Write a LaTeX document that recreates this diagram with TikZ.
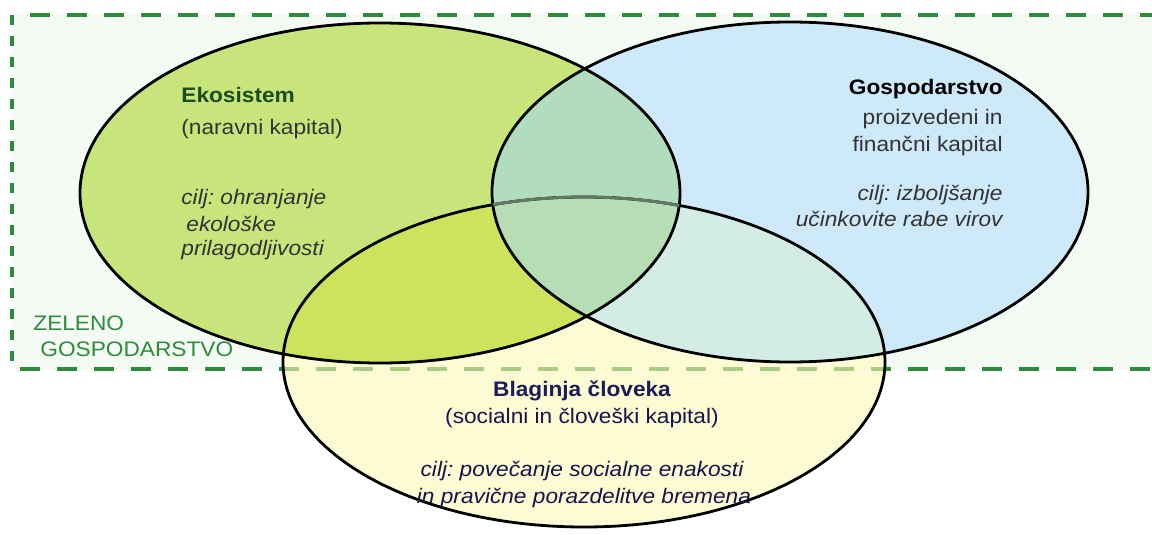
\documentclass[tikz,border=0pt]{standalone}
\usepackage{fontspec}
\setmainfont{Liberation Sans}[FakeStretch=1.08]
\frenchspacing
\definecolor{zonebg}{HTML}{F4FBF4}
\definecolor{zonegreen}{HTML}{2E8B3A}
\definecolor{zonelight}{HTML}{A9CD84}
\definecolor{ekogreen}{HTML}{C8E57C}
\definecolor{gospblue}{HTML}{CDE9FA}
\definecolor{blagyellow}{HTML}{FDFBD3}
\definecolor{ekoblag}{HTML}{CCE45C}
\definecolor{ekogosp}{HTML}{B2DCBE}
\definecolor{gospblag}{HTML}{D4ECE6}
\definecolor{vsitri}{HTML}{B6DDB4}
\definecolor{ekotitle}{HTML}{1B4D1B}
\definecolor{blagtitle}{HTML}{1C1C5C}
\definecolor{textgray}{HTML}{333333}
\newcommand{\ekoring}{(380,193) ellipse [x radius=300, y radius=170]}
\newcommand{\gospring}{(790,192) ellipse [x radius=298, y radius=170]}
\newcommand{\blagring}{(584,362) ellipse [x radius=301, y radius=165]}

\begin{document}
\begin{tikzpicture}[x=0.5pt, y=-0.5pt,
  ring/.style={draw=black, line width=1.4pt},
  zoneline/.style={draw=zonegreen, line width=1.6pt, dash pattern=on 10pt off 8.5pt},
  zoneside/.style={draw=zonegreen, line width=2pt, dash pattern=on 5pt off 5.5pt},
  txt/.style={inner sep=0pt, font=\fontsize{10.5}{13}\selectfont},
  title/.style={inner sep=0pt, font=\fontsize{10.5}{13}\selectfont\bfseries},
  goal/.style={inner sep=0pt, font=\fontsize{10.5}{13}\selectfont\itshape}
]
  \useasboundingbox (0,0) rectangle (1152,535);
  \fill[zonebg] (12,15) rectangle (1160,369);
  \draw[zoneline] (30,15) -- (1160,15);
  \draw[zoneline] (20,369) -- (1160,369);
  \draw[zoneside] (12,15) -- (12,369);

  \fill[ekogreen] \ekoring;
  \fill[gospblue] \gospring;
  \fill[blagyellow] \blagring;
  \begin{scope}
    \clip \ekoring;
    \fill[ekoblag] \blagring;
  \end{scope}
  \begin{scope}
    \clip \gospring;
    \fill[gospblag] \blagring;
  \end{scope}
  \begin{scope}
    \clip \ekoring;
    \fill[ekogosp] \gospring;
    \clip \gospring;
    \fill[vsitri] \blagring;
  \end{scope}
  \begin{scope}
    \clip \blagring;
    \draw[zoneline, draw=zonelight] (20,369) -- (1160,369);
  \end{scope}

  \draw[ring] \ekoring;
  \draw[ring] \gospring;
  \draw[ring] \blagring;
  \begin{scope}
    \clip \ekoring;
    \clip \gospring;
    \draw[ring, draw=black!45!ekogosp] \blagring;
  \end{scope}

  \node[title, anchor=base west, text=ekotitle] (ekoime) at (181,103) {Ekosistem};
  \node[txt, anchor=base west, text=textgray] (ekokap) at (181,134) {(naravni kapital)};
  \node[goal, anchor=base west, text=textgray] (ekocilj1) at (181,205) {cilj: ohranjanje};
  \node[goal, anchor=base west, text=textgray] (ekocilj2) at (186,231) {ekološke};
  \node[goal, anchor=base west, text=textgray] (ekocilj3) at (181,256) {prilagodljivosti};

  \node[title, anchor=base east, text=black] (gospime) at (1003,95) {Gospodarstvo};
  \node[txt, anchor=base east, text=textgray] (gospkap1) at (1003,125) {proizvedeni in};
  \node[txt, anchor=base east, text=textgray] (gospkap2) at (1003,152) {finančni kapital};
  \node[goal, anchor=base east, text=textgray] (gospcilj1) at (1003,200) {cilj: izboljšanje};
  \node[goal, anchor=base east, text=textgray] (gospcilj2) at (1003,227) {učinkovite rabe virov};

  \node[title, anchor=base, text=blagtitle] (blagime) at (582,396) {Blaginja človeka};
  \node[txt, anchor=base, text=blagtitle!80!black] (blagkap) at (582,423) {(socialni in človeški kapital)};
  \node[goal, anchor=base, text=blagtitle!80!black] (blagcilj1) at (582,476) {cilj: povečanje socialne enakosti};
  \node[goal, anchor=base, text=blagtitle!80!black] (blagcilj2) at (584,503) {in pravične porazdelitve bremena};

  \node[txt, anchor=base west, text=zonegreen] (zeleno1) at (33,330) {ZELENO};
  \node[txt, anchor=base west, text=zonegreen] (zeleno2) at (40,356) {GOSPODARSTVO};
\end{tikzpicture}
\end{document}
